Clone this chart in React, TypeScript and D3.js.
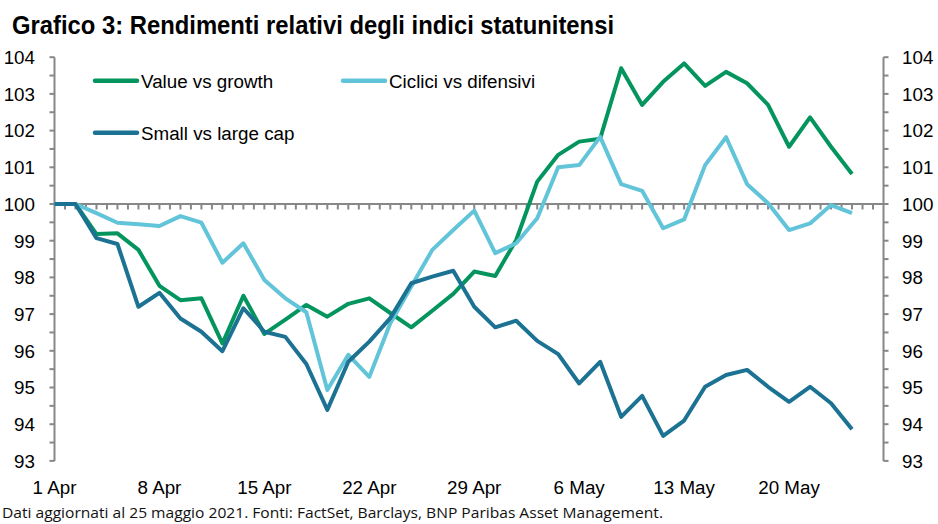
import React from "react";
import * as d3 from "d3";

const dates = [
  "2021-04-01","2021-04-02","2021-04-05","2021-04-06","2021-04-07","2021-04-08","2021-04-09",
  "2021-04-12","2021-04-13","2021-04-14","2021-04-15","2021-04-16",
  "2021-04-19","2021-04-20","2021-04-21","2021-04-22","2021-04-23",
  "2021-04-26","2021-04-27","2021-04-28","2021-04-29","2021-04-30",
  "2021-05-03","2021-05-04","2021-05-05","2021-05-06","2021-05-07",
  "2021-05-10","2021-05-11","2021-05-12","2021-05-13","2021-05-14",
  "2021-05-17","2021-05-18","2021-05-19","2021-05-20","2021-05-21",
  "2021-05-24","2021-05-25",
];

const valueVsGrowth = [
  100, 100, 99.18, 99.2, 98.75, 97.77, 97.38, 97.43, 96.2, 97.5, 96.46, 96.85,
  97.25, 96.93, 97.28, 97.43, 97.03, 96.64, 97.09, 97.55, 98.16, 98.04,
  99.02, 100.61, 101.34, 101.7, 101.78, 103.7, 102.7, 103.33, 103.83, 103.22,
  103.6, 103.29, 102.7, 101.56, 102.36, 101.56, 100.82,
];

const ciclicivsDifensivi = [
  100, 100, 99.75, 99.49, 99.45, 99.4, 99.67, 99.49, 98.4, 98.93, 97.93, 97.43,
  97.05, 94.93, 95.89, 95.29, 96.75, 97.75, 98.75, 99.29, 99.82, 98.66,
  98.93, 99.61, 101.0, 101.06, 101.83, 100.54, 100.36, 99.34, 99.58, 101.06,
  101.82, 100.54, 100.02, 99.29, 99.47, 99.97, 99.75,
];

const smallVsLargeCap = [
  100, 100, 99.07, 98.91, 97.2, 97.58, 96.88, 96.52, 95.99, 97.16, 96.52, 96.38,
  95.64, 94.39, 95.7, 96.25, 96.89, 97.84, 98.02, 98.18, 97.2, 96.64,
  96.82, 96.27, 95.91, 95.11, 95.7, 94.2, 94.77, 93.68, 94.1, 95.02,
  95.34, 95.48, 95.02, 94.61, 95.02, 94.57, 93.86,
];

const seriesNames = ["Value vs growth", "Ciclici vs difensivi", "Small vs large cap"];
const seriesColors = ["#04955f", "#62c4d9", "#1b7292"];
const seriesData = [valueVsGrowth, ciclicivsDifensivi, smallVsLargeCap];

const xTickDates = ["2021-04-01","2021-04-08","2021-04-15","2021-04-22","2021-04-29","2021-05-06","2021-05-13","2021-05-20"];
const xTickLabels = ["1 Apr","8 Apr","15 Apr","22 Apr","29 Apr","6 May","13 May","20 May"];
const yTicks = [93, 94, 95, 96, 97, 98, 99, 100, 101, 102, 103, 104];

const titleText = "Grafico 3: Rendimenti relativi degli indici statunitensi";
const footText = "Dati aggiornati al 25 maggio 2021. Fonti: FactSet, Barclays, BNP Paribas Asset Management.";

export default function App() {
  const W = 938, H = 524;
  const left = 54.5, right = 883.5;
  const x = d3.scaleLinear().domain([0, dates.length + 0.5]).range([left, right]);
  const y = d3.scaleLinear().domain([93, 104]).range([460.9, 57.2]);
  const line = d3.line<number>().x((_, i) => x(i)).y((v) => y(v));
  const axisColor = "#878787";
  const font = "'Liberation Sans', Arial, sans-serif";
  const fs = 18.8;

  const minorY = d3.range(93, 104.01, 0.5);
  const xMinor = d3.range(0.5, dates.length + 0.5, 0.5);

  const legendPos = [
    { lx: 95, ly: 80.7 },
    { lx: 343, ly: 80.7 },
    { lx: 95, ly: 132.7 },
  ];

  return (
    <svg width={W} height={H} style={{ position: "absolute", left: 0, top: 0, background: "#fff" }}>
      <rect width={W} height={H} fill="#fff" />
      <text x={12} y={34} fontFamily="'Liberation Sans Narrow', 'Arial Narrow', 'Liberation Sans', sans-serif"
        fontWeight="bold" fontSize={25.5} textLength={602} lengthAdjust="spacingAndGlyphs" fill="#000">
        {titleText}
      </text>

      {/* left axis */}
      <line x1={left} x2={left} y1={y(104)} y2={y(93)} stroke={axisColor} strokeWidth={2} />
      {minorY.map((v) => (
        <line key={"lt" + v} x1={left - 5} x2={left} y1={y(v)} y2={y(v)} stroke={axisColor} strokeWidth={2} />
      ))}
      {yTicks.map((v) => (
        <text key={"ll" + v} x={35} y={y(v) + 6.8} textAnchor="end" fontFamily={font} fontSize={fs} fill="#000">
          {v}
        </text>
      ))}

      {/* right axis */}
      <line x1={right} x2={right} y1={y(104)} y2={y(93)} stroke={axisColor} strokeWidth={2} />
      {minorY.map((v) => (
        <line key={"rt" + v} x1={right} x2={right + 5} y1={y(v)} y2={y(v)} stroke={axisColor} strokeWidth={2} />
      ))}
      {yTicks.map((v) => (
        <text key={"rl" + v} x={902} y={y(v) + 6.8} textAnchor="start" fontFamily={font} fontSize={fs} fill="#000">
          {v}
        </text>
      ))}

      {/* x axis at 100 */}
      <line x1={left} x2={right} y1={y(100)} y2={y(100)} stroke={axisColor} strokeWidth={2} />
      {xMinor.map((t) => (
        <line key={"xt" + t} x1={x(t)} x2={x(t)} y1={y(100)} y2={y(100) + 5.5} stroke={axisColor} strokeWidth={2} />
      ))}
      {xTickDates.map((d, k) => (
        <text key={"xl" + d} x={x(dates.indexOf(d))} y={494} textAnchor="middle" fontFamily={font} fontSize={fs} fill="#000">
          {xTickLabels[k]}
        </text>
      ))}

      {/* series */}
      {seriesData.map((s, k) => (
        <path key={"s" + k} d={line(s) || ""} fill="none" stroke={seriesColors[k]} strokeWidth={4} strokeLinejoin="round" />
      ))}

      {/* legend */}
      {seriesNames.map((n, k) => (
        <g key={"lg" + k}>
          <line x1={legendPos[k].lx} x2={legendPos[k].lx + 42} y1={legendPos[k].ly} y2={legendPos[k].ly}
            stroke={seriesColors[k]} strokeWidth={4.5} strokeLinecap="round" />
          <text x={legendPos[k].lx + 46} y={legendPos[k].ly + 6.8} fontFamily={font} fontSize={fs} fill="#000">
            {n}
          </text>
        </g>
      ))}

      <text x={2} y={518} fontFamily="'Open Sans', 'Noto Sans', sans-serif" fontSize={14.5} textLength={661}
        lengthAdjust="spacingAndGlyphs" fill="#111">
        {footText}
      </text>
    </svg>
  );
}
